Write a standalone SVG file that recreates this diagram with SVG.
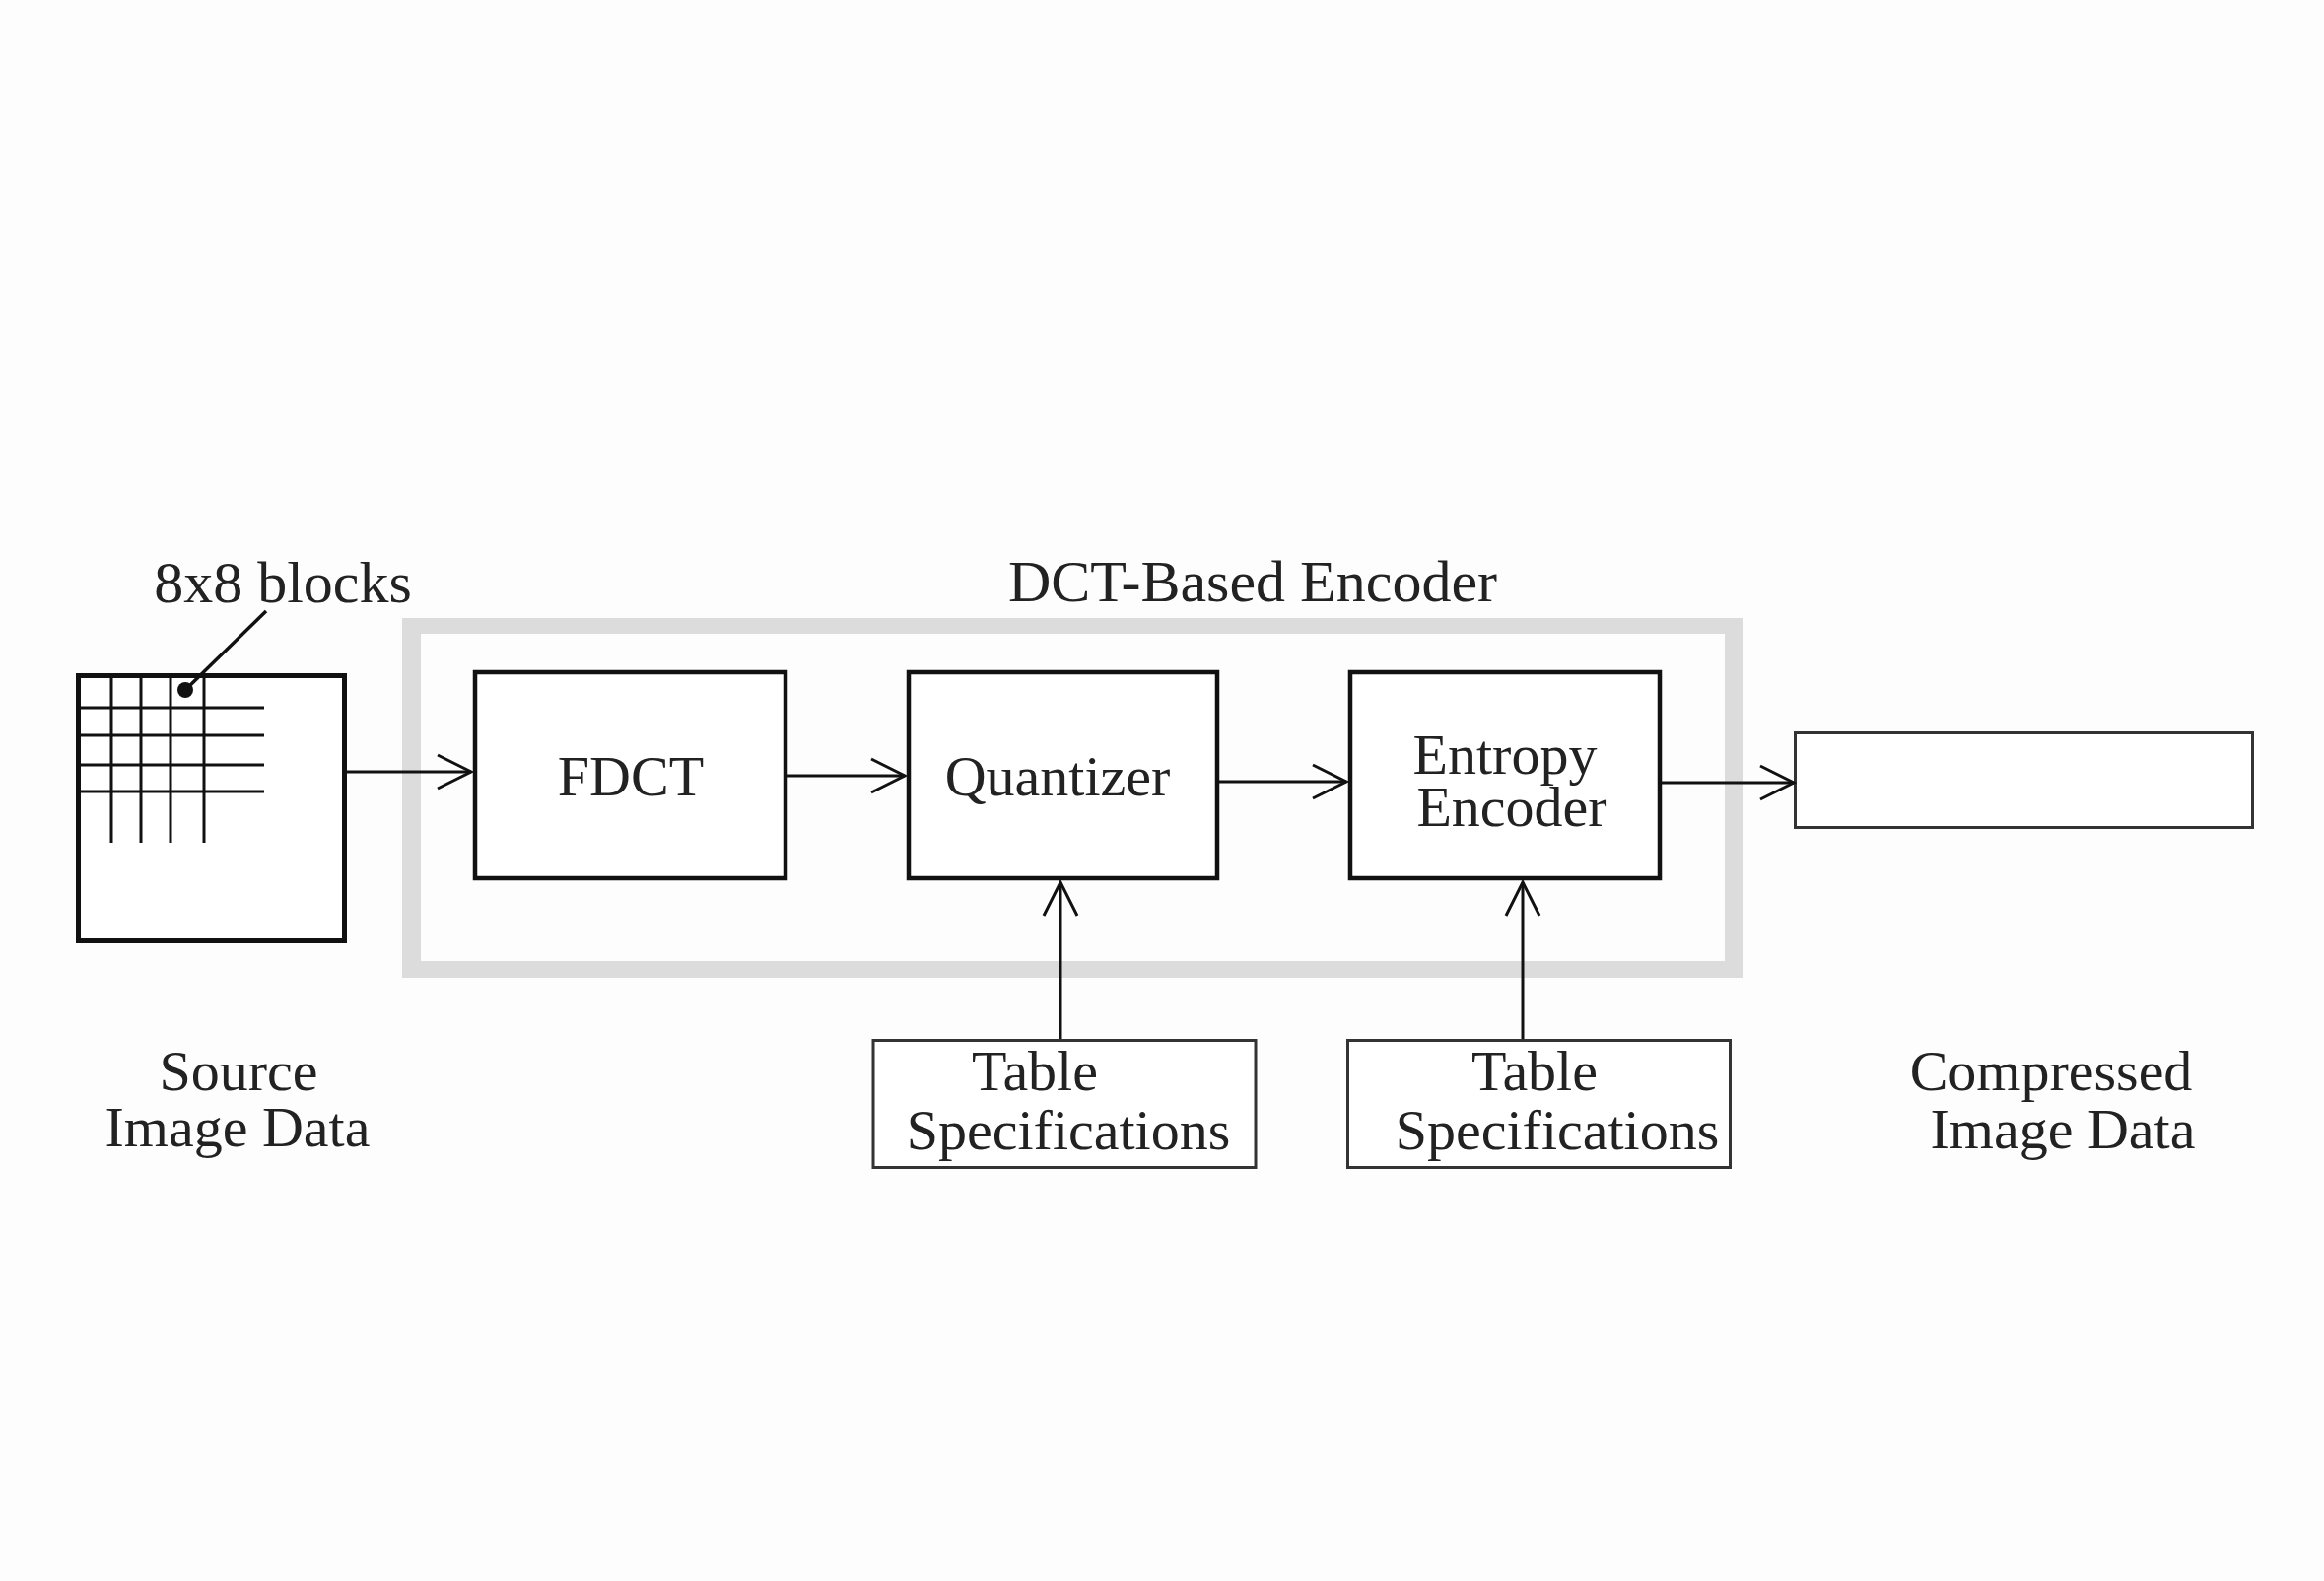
<svg xmlns="http://www.w3.org/2000/svg" width="2358" height="1604" viewBox="0 0 2358 1604">
<defs>
<style>
.t{font-family:"Liberation Serif","Times New Roman",serif;font-size:58px;fill:#222;text-anchor:middle}
.big{font-size:60px}
.box{fill:#fff;stroke:#111;stroke-width:4.5}
.thin{fill:#fff;stroke:#333;stroke-width:3}
.ln{fill:none;stroke:#111;stroke-width:3}
.conn{fill:none;stroke:#111;stroke-width:3;marker-end:url(#arr)}
</style>
<marker id="arr" markerUnits="userSpaceOnUse" markerWidth="40" markerHeight="40" refX="34" refY="17" orient="auto" viewBox="-2 -2 40 40">
<path d="M0,0 L34,17 L0,34" fill="none" stroke="#111" stroke-width="3"/>
</marker>
</defs>
<rect width="2358" height="1604" fill="#fdfdfd"/>

<g id="encoder-frame">
<path d="M408,627 H1768 V992 H408 Z M427,643 V975 H1750 V643 Z" fill="#dcdcdc" fill-rule="evenodd"/>
<text class="t big" x="1271" y="610">DCT-Based Encoder</text>
</g>

<g id="source">
<rect x="79.5" y="685.5" width="270" height="269" fill="#fff" stroke="#111" stroke-width="5"/>
<g class="ln">
<line x1="113" y1="685" x2="113" y2="855"/>
<line x1="143" y1="685" x2="143" y2="855"/>
<line x1="173" y1="685" x2="173" y2="855"/>
<line x1="207" y1="685" x2="207" y2="855"/>
<line x1="79" y1="718" x2="268" y2="718"/>
<line x1="79" y1="746" x2="268" y2="746"/>
<line x1="79" y1="776" x2="268" y2="776"/>
<line x1="79" y1="803" x2="268" y2="803"/>
<line x1="188" y1="700" x2="270" y2="620" stroke-width="3.5"/>
</g>
<circle cx="188" cy="700" r="8" fill="#111"/>
<text class="t big" x="287" y="611">8x8 blocks</text>
<text class="t" x="242" y="1106">Source</text>
<text class="t" x="241" y="1163">Image Data</text>
</g>

<g id="fdct">
<rect class="box" x="482" y="682" width="315" height="209"/>
<text class="t" x="640" y="807">FDCT</text>
</g>

<g id="quantizer">
<rect class="box" x="922" y="682" width="313" height="209"/>
<text class="t" x="1073" y="807">Quantizer</text>
</g>

<g id="entropy">
<rect class="box" x="1370" y="682" width="314" height="209"/>
<text class="t" x="1527" y="785">Entropy</text>
<text class="t" x="1534" y="838">Encoder</text>
</g>

<g id="output">
<rect class="thin" x="1821.5" y="743.5" width="464" height="96"/>
<text class="t" x="2081" y="1106">Compressed</text>
<text class="t" x="2093" y="1165">Image Data</text>
</g>

<g id="table1">
<rect class="thin" x="886" y="1055.5" width="388" height="129"/>
<text class="t" x="1050" y="1106">Table</text>
<text class="t" x="1084" y="1166">Specifications</text>
</g>

<g id="table2">
<rect class="thin" x="1367.5" y="1055.5" width="388" height="129"/>
<text class="t" x="1557" y="1106">Table</text>
<text class="t" x="1580" y="1166">Specifications</text>
</g>

<g id="connectors">
<line class="conn" x1="352" y1="783" x2="478" y2="783"/>
<line class="conn" x1="799" y1="787" x2="918" y2="787"/>
<line class="conn" x1="1237" y1="793" x2="1366" y2="793"/>
<line class="conn" x1="1686" y1="794" x2="1820" y2="794"/>
<line class="conn" x1="1076" y1="1054" x2="1076" y2="895"/>
<line class="conn" x1="1545" y1="1054" x2="1545" y2="895"/>
</g>
</svg>
